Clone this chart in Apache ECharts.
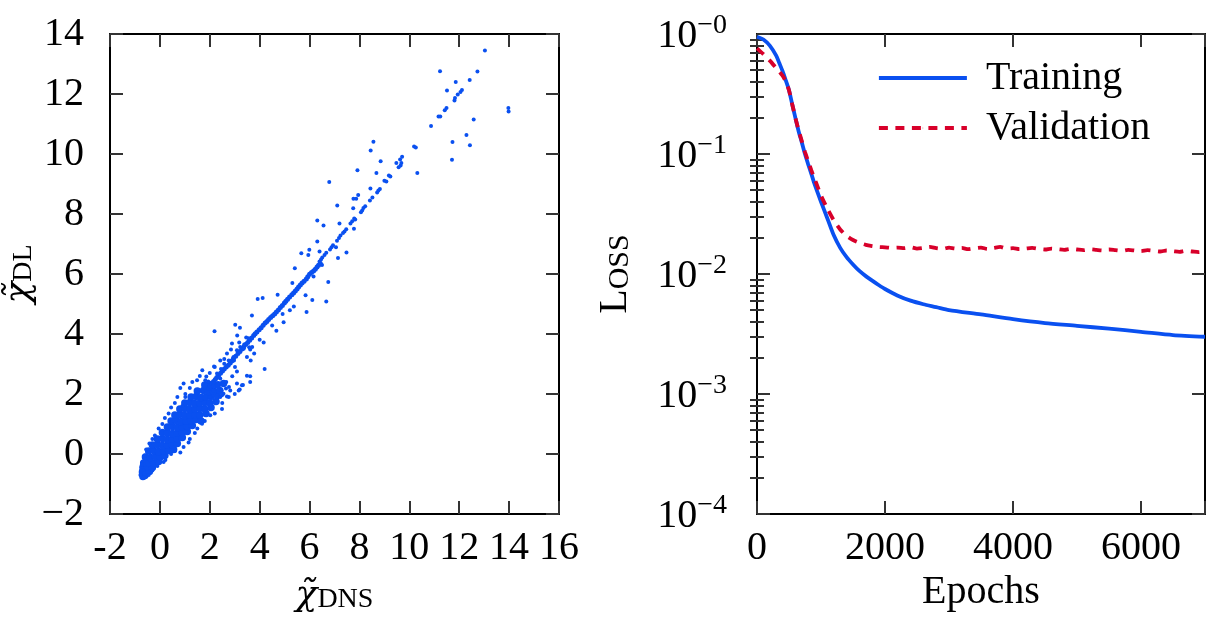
<!DOCTYPE html>
<html>
<head>
<meta charset="utf-8">
<script src="https://cdn.jsdelivr.net/npm/echarts@6/dist/echarts.min.js"></script>
<style>html,body{margin:0;padding:0;background:#fff;}#c{width:1208px;height:617px;}</style>
</head>
<body>
<div id="c"></div>
<script>
// ---------- DATA ----------
// Left panel: scatter of chi_DL vs chi_DNS
const cloudCore = [
 [-0.68,-0.75],[-0.6,-0.72],
 [-0.7,-0.6],[-0.55,-0.62],[-0.42,-0.58],
 [-0.68,-0.45],[-0.5,-0.42],[-0.3,-0.45],
 [-0.65,-0.3],[-0.45,-0.28],[-0.25,-0.3],[-0.05,-0.25],
 [-0.58,-0.1],[-0.38,-0.12],[-0.18,-0.08],[0.02,-0.1],[0.2,-0.05],
 [-0.45,0.1],[-0.25,0.12],[-0.05,0.08],[0.15,0.1],[0.35,0.12],[0.55,0.15],
 [-0.3,0.3],[-0.1,0.32],[0.1,0.28],[0.3,0.3],[0.5,0.32],[0.7,0.35],
 [-0.1,0.5],[0.1,0.52],[0.3,0.48],[0.5,0.5],[0.7,0.52],[0.9,0.55],
 [0.1,0.72],[0.3,0.7],[0.5,0.68],[0.7,0.7],[0.9,0.72],[1.1,0.75],
 [0.3,0.9],[0.5,0.92],[0.7,0.88],[0.9,0.9],[1.1,0.92],[1.3,0.95],
 [0.45,1.1],[0.65,1.12],[0.85,1.08],[1.05,1.1],[1.25,1.12],[1.45,1.15],[1.65,1.1],
 [0.6,1.3],[0.8,1.32],[1.0,1.28],[1.2,1.3],[1.4,1.32],[1.6,1.3],[1.85,1.35],
 [0.8,1.5],[1.0,1.52],[1.2,1.48],[1.4,1.5],[1.6,1.52],[1.8,1.5],[2.05,1.55],
 [1.0,1.7],[1.2,1.72],[1.4,1.68],[1.6,1.7],[1.8,1.72],[2.0,1.7],[2.25,1.75],
 [1.25,1.9],[1.45,1.92],[1.65,1.88],[1.85,1.9],[2.05,1.92],[2.3,1.95],
 [1.5,2.1],[1.75,2.12],[1.95,2.08],[2.15,2.1],[2.4,2.12],
 [1.8,2.3],[2.05,2.32],[2.3,2.3],[2.55,2.35]
];
const ridgePoints = [
 [1.95,2.19],[2.02,2.27],[2.09,2.35],[2.15,2.42],[2.22,2.48],[2.28,2.55],[2.35,2.61],[2.43,2.69],
 [2.51,2.77],[2.58,2.83],[2.66,2.9],[2.74,2.96],[2.82,3.03],[2.88,3.1],[2.95,3.18],[3.04,3.26],
 [3.13,3.35],[3.21,3.42],[3.29,3.5],[3.36,3.57],[3.44,3.65],[3.52,3.72],[3.6,3.79],[3.68,3.87],
 [3.76,3.95],[3.82,4.01],[3.89,4.07],[3.98,4.14],[4.06,4.21],[4.14,4.29],[4.22,4.37],[4.29,4.42],
 [4.36,4.48],[4.44,4.55],[4.52,4.61],[4.6,4.67],[4.67,4.73],[4.75,4.8],[4.83,4.88],[4.91,4.95],
 [4.99,5.03],[5.05,5.09],[5.12,5.16],[5.2,5.23],[5.29,5.31],[5.36,5.37],[5.43,5.43],[5.5,5.5],
 [5.56,5.57],[5.63,5.63],[5.7,5.7],[5.78,5.76],[5.87,5.83],[5.93,5.91],[6.0,5.99],[6.08,6.05],
 [6.16,6.1],[6.23,6.16],[6.3,6.23],[6.36,6.29],[6.43,6.35]
];
const scatterPoints = [
 [13.03,13.45],[11.23,12.76],[12.73,12.75],[11.86,12.4],[12.42,12.47],[11.51,12.12],[12.11,12.13],
 [12.05,12.07],[11.94,11.98],[11.83,11.87],[11.81,11.78],[11.49,11.53],[11.42,11.46],[13.97,11.53],
 [13.98,11.42],[11.17,11.25],[11.24,11.25],[12.58,11.15],[10.87,10.93],[12.29,10.63],[11.73,10.4],
 [12.43,10.29],[10.19,10.25],[10.26,10.22],[11.71,9.81],[9.71,9.91],[9.63,9.82],[9.48,9.70],
 [9.68,9.70],[9.65,9.62],[9.57,9.56],[8.85,9.76],
 [8.56,10.41],[8.45,10.12],[10.32,9.37],[7.92,9.46],[8.68,9.37],[9.18,9.28],[9.24,9.25],[9.0,9.11],
 [9.08,9.08],[6.79,9.07],[8.82,8.83],[8.76,8.78],[8.71,8.72],[8.44,8.85],[7.95,8.63],[7.76,8.51],
 [7.87,8.51],[8.52,8.55],[8.42,8.45],[8.23,8.26],[8.16,8.2],[8.11,8.12],[8.06,8.06],[7.11,8.28],
 [7.75,8.19],[7.79,7.85],[7.83,7.82],[7.71,7.76],[7.64,7.68],[6.31,7.78],[6.56,7.62],[7.2,7.68],
 [7.78,7.51],[7.47,7.49],[7.4,7.42],[7.34,7.37],[7.24,7.28],[7.18,7.2],[6.31,7.08],[7.1,7.11],
 [6.94,6.96],[6.88,6.89],[6.82,6.82],[7.06,6.89],[5.99,6.81],[5.67,6.69],[5.95,6.63],[6.67,6.71],
 [6.6,6.63],[6.51,6.55],[6.46,6.48],[6.4,6.42],[6.4,6.75],[7.48,6.72],[7.14,6.53],[6.5,6.3],
 [5.41,6.19],[6.16,5.92],
 [5.31,5.7],[6.75,5.73],[4.72,5.31],[5.84,5.29],[6.11,5.13],[6.67,5.08],[5.37,4.92],[5.21,4.79],
 [5.88,4.73],[3.92,5.17],[4.12,5.2],[3.69,4.62],[4.92,4.67],[4.96,4.39],[4.5,4.28],[4.67,4.11],
 [3.02,4.31],[3.21,4.21],[2.19,4.09],[4.16,3.72],[4.0,3.81],[3.1,3.95],[2.89,3.68],[3.18,3.72],
 [3.38,3.65],[3.58,3.56],[3.46,3.88],[3.55,3.86],[3.7,3.57],[2.58,3.17],[2.17,2.92],[2.97,3.12],
 [3.49,3.23],[3.64,3.12],[3.78,3.35],[4.2,2.83],[1.7,2.79],[1.86,2.58],[1.94,2.42],[3.49,2.61],
 [3.62,2.59],[3.33,2.3],[3.2,2.15],[2.77,2.23],[3.01,2.9],[3.09,2.75],[2.9,2.59],[2.66,2.4],
 [2.42,2.52],[2.35,2.37],[2.15,2.26],[2.47,2.12],[2.69,1.92],[2.55,2.01],[2.29,2.68],[2.45,2.83],
 [2.58,3.01],[2.76,3.12],[2.95,3.23],[3.09,3.46],[3.22,3.57],[3.36,3.51],[3.62,3.48],[2.85,3.48],
 [2.69,3.35],[2.42,3.12],[2.15,2.12],[2.02,1.9],[2.42,1.9],[2.82,2.12],[3.09,2.35],[3.62,2.4],
 [-0.78,-0.7],[-0.75,-0.55],[-0.72,-0.35],[-0.6,-0.05],[-0.55,0.15],[-0.42,0.35],[-0.3,0.5],
 [-0.2,0.62],[-0.05,0.85],[0.1,1.0],[0.2,1.2],[0.35,1.35],[0.45,1.55],[0.6,1.7],[0.7,1.9],
 [0.95,2.35],[1.02,2.0],[1.2,2.2],[1.49,2.46],[1.82,2.46],[1.6,2.6],[2.0,2.7],[2.2,2.9],
 [-0.45,-0.7],[-0.3,-0.55],[-0.1,-0.4],[0.15,-0.27],[0.22,-0.2],[0.45,0.0],[0.6,0.1],[0.82,0.05],
 [0.95,0.23],[1.15,0.38],[1.2,0.5],[1.4,0.7],[1.5,0.85],[1.69,1.01],[1.8,1.1],[2.02,1.29],
 [2.2,1.35],[2.49,1.5],[2.5,1.7],[2.76,1.9],[2.49,1.96],[2.65,2.18],[3.0,2.0],[3.16,2.12],
 [3.29,2.29],[1.02,1.9],[0.82,2.2],[0.9,1.6],[1.3,2.4]
];
const xTicksLeft = [-2, 16, 2];   // min, max, step
const yTicksLeft = [-2, 14, 2];

// Right panel: loss curves
const trainEpochs = [0,100,200,300,350,400,450,500,550,600,650,700,750,800,850,900,1000,1100,1200,1300,1400,1500,1600,1700,1800,1900,2000,2200,2400,2600,2800,3000,3500,4000,4500,5000,5500,6000,6500,7000];
const trainLoss   = [0.95,0.9,0.8,0.66,0.57,0.49,0.41,0.34,0.26,0.2,0.155,0.125,0.1,0.082,0.068,0.056,0.04,0.029,0.021,0.0165,0.0138,0.012,0.0106,0.0096,0.0088,0.0081,0.0075,0.0066,0.006,0.0056,0.0053,0.005,0.0046,0.0042,0.0039,0.0037,0.0035,0.0033,0.0031,0.003];
const valEpochs = [0,100,200,300,400,450,500,550,600,650,700,750,800,850,900,950,1000,1100,1200,1300,1400,1500,1600,1700,1800,1900,2000,
 2100,2200,2300,2400,2500,2600,2700,2800,2900,3000,3100,3200,3300,3400,3500,3600,3700,3800,3900,4000,
 4100,4200,4300,4400,4500,4600,4700,4800,4900,5000,5100,5200,5300,5400,5500,5600,5700,5800,5900,6000,
 6100,6200,6300,6400,6500,6600,6700,6800,6900,7000];
const valLoss = [0.76,0.68,0.6,0.52,0.45,0.4,0.34,0.26,0.2,0.158,0.128,0.104,0.087,0.073,0.062,0.053,0.045,0.035,0.028,0.0235,0.0208,0.0192,0.0182,0.0175,0.0171,0.0168,0.0167,
 0.0165,0.0166,0.0164,0.0167,0.0163,0.0165,0.0168,0.0164,0.0162,0.0166,0.0163,0.0165,0.0161,0.0164,0.0166,0.0162,0.0165,0.0168,0.0163,0.0164,
 0.0161,0.0163,0.0165,0.0162,0.016,0.0163,0.0161,0.0159,0.0162,0.016,0.0158,0.0161,0.0159,0.0157,0.016,0.0158,0.0156,0.0159,0.0157,0.0155,
 0.0158,0.0156,0.0154,0.0157,0.0155,0.0153,0.0156,0.0154,0.0152,0.0154];
const xTicksRight = [0, 7000, 2000];
const logRange = [1e-4, 1];
const seriesNames = ['Training', 'Validation'];

// ---------- STYLE ----------
const FONT = 'Liberation Serif';
const BLUE = '#0a50f0';
const RED = '#d8002a';
const TICK = '#333';

function frameAxis(extra) {
  return Object.assign({
    axisLine: {show: true, onZero: false, lineStyle: {color: '#000', width: 2}},
    axisTick: {show: true, inside: true, length: 13, lineStyle: {color: TICK, width: 2}},
    splitLine: {show: false},
    axisLabel: {show: false}
  }, extra);
}
const lab = {color: '#000', fontFamily: FONT, fontSize: 40};

const logLabelRich = {
  b: {fontFamily: FONT, fontSize: 40, color: '#000', verticalAlign: 'bottom', lineHeight: 44},
  s: {fontFamily: FONT, fontSize: 28, color: '#000', verticalAlign: 'top', lineHeight: 30}
};
const chiRich = {
  c: {fontFamily: 'DejaVu Serif', fontSize: 36, fontStyle: 'italic', color: '#000', verticalAlign: 'bottom', lineHeight: 40},
  s: {fontFamily: FONT, fontSize: 28, color: '#000', verticalAlign: 'bottom', lineHeight: 34}
};
const minorVals = [];
for (let d = -4; d < 0; d++) for (let k = 2; k <= 9; k++) minorVals.push(Math.log10(k) + d);

const chart = echarts.init(document.getElementById('c'), null, {renderer: 'canvas'});
chart.setOption({
  backgroundColor: '#fff',
  animation: false,
  grid: [
    {left: 110, top: 34, width: 449, height: 480, containLabel: false, outerBoundsMode: 'none'},
    {left: 757, top: 34, width: 448, height: 480, containLabel: false, outerBoundsMode: 'none'}
  ],
  legend: {
    orient: 'vertical', left: 872, top: 53, itemWidth: 88, itemHeight: 1, itemGap: 10,
    data: seriesNames,
    lineStyle: {width: 3.8},
    textStyle: {fontFamily: FONT, fontSize: 40, color: '#000', lineHeight: 40, padding: [0, 0, 0, 14]}
  },
  xAxis: [
    frameAxis({type: 'value', gridIndex: 0, position: 'bottom', min: xTicksLeft[0], max: xTicksLeft[1], interval: xTicksLeft[2],
      axisLabel: Object.assign({show: true, margin: 14, formatter: v => String(v)}, lab),
      name: '{c|χ̃}{s|DNS}', nameLocation: 'middle', nameGap: 60,
      nameTextStyle: {rich: chiRich}}),
    frameAxis({type: 'value', gridIndex: 0, position: 'top', min: xTicksLeft[0], max: xTicksLeft[1], interval: xTicksLeft[2]}),
    frameAxis({type: 'value', gridIndex: 1, position: 'bottom', min: xTicksRight[0], max: xTicksRight[1], interval: xTicksRight[2],
      axisLabel: Object.assign({show: true, margin: 14, formatter: v => (v === xTicksRight[1] ? '' : String(v))}, lab),
      name: 'Epochs', nameLocation: 'middle', nameGap: 58,
      nameTextStyle: {fontFamily: FONT, fontSize: 40, color: '#000'}}),
    frameAxis({type: 'value', gridIndex: 1, position: 'top', min: xTicksRight[0], max: xTicksRight[1], interval: xTicksRight[2]})
  ],
  yAxis: [
    frameAxis({type: 'value', gridIndex: 0, position: 'left', min: yTicksLeft[0], max: yTicksLeft[1], interval: yTicksLeft[2],
      axisLabel: Object.assign({show: true, margin: 26, formatter: v => String(v).replace('-', '−')}, lab),
      name: '{c|χ̃}{s|DL}', nameLocation: 'middle', nameGap: 72, nameRotate: 90,
      nameTextStyle: {rich: chiRich}}),
    frameAxis({type: 'value', gridIndex: 0, position: 'right', min: yTicksLeft[0], max: yTicksLeft[1], interval: yTicksLeft[2]}),
    frameAxis({type: 'log', logBase: 10, gridIndex: 1, position: 'left', min: logRange[0], max: logRange[1],
      axisLabel: {show: true, margin: 30, formatter: v => '{b|10}{s|−' + (-Math.round(Math.log10(v))) + '}', rich: logLabelRich},
      name: '{L|L}{o|OSS}', nameLocation: 'middle', nameGap: 122, nameRotate: 90,
      nameTextStyle: {rich: {L: {fontFamily: FONT, fontSize: 40, color: '#000', verticalAlign: 'bottom', lineHeight: 40},
                             o: {fontFamily: FONT, fontSize: 30, color: '#000', verticalAlign: 'bottom', lineHeight: 38}}}}),
    frameAxis({type: 'log', logBase: 10, gridIndex: 1, position: 'right', min: logRange[0], max: logRange[1]}),
    {type: 'value', gridIndex: 1, position: 'left', min: -4, max: 0,
      axisLine: {show: false}, splitLine: {show: false}, axisLabel: {show: false},
      axisTick: {show: true, inside: true, length: 7, customValues: minorVals, lineStyle: {color: TICK, width: 2}}},
    {type: 'value', gridIndex: 1, position: 'right', min: -4, max: 0,
      axisLine: {show: false}, splitLine: {show: false}, axisLabel: {show: false},
      axisTick: {show: true, inside: true, length: 7, customValues: minorVals, lineStyle: {color: TICK, width: 2}}}
  ],
  series: [
    {type: 'scatter', name: 'cloud', xAxisIndex: 0, yAxisIndex: 0, data: cloudCore, symbolSize: 7.5,
      itemStyle: {color: BLUE, opacity: 1}, silent: true},
    {type: 'scatter', name: 'ridge', xAxisIndex: 0, yAxisIndex: 0, data: ridgePoints, symbolSize: 5,
      itemStyle: {color: BLUE, opacity: 1}, silent: true},
    {type: 'scatter', name: 'points', xAxisIndex: 0, yAxisIndex: 0, data: scatterPoints, symbolSize: 4,
      itemStyle: {color: BLUE, opacity: 1}, silent: true},
    {type: 'line', name: seriesNames[0], xAxisIndex: 2, yAxisIndex: 2,
      data: trainEpochs.map((e, i) => [e, trainLoss[i]]), showSymbol: false, symbol: 'none', smooth: 0.25,
      lineStyle: {color: BLUE, width: 3.8}, itemStyle: {color: BLUE}},
    {type: 'line', name: seriesNames[1], xAxisIndex: 2, yAxisIndex: 2,
      data: valEpochs.map((e, i) => [e, valLoss[i]]), showSymbol: false, symbol: 'none', smooth: 0.25,
      lineStyle: {color: RED, width: 3.8, type: [9, 7.5]}, itemStyle: {color: RED}}
  ]
});
</script>
</body>
</html>
